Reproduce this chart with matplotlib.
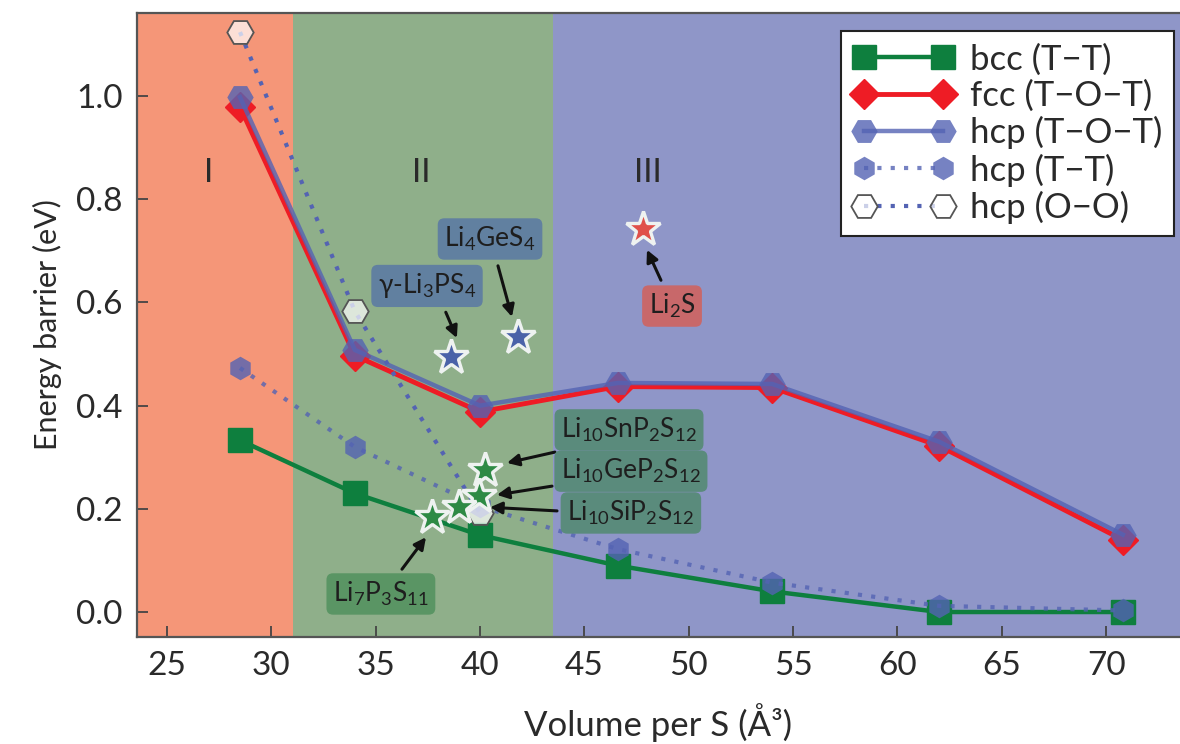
import matplotlib
matplotlib.use("Agg")
import matplotlib.pyplot as plt

plt.rcParams['font.family'] = ['Lato', 'DejaVu Sans']
plt.rcParams['mathtext.fontset'] = 'custom'
plt.rcParams['mathtext.rm'] = 'Lato'
plt.rcParams['mathtext.it'] = 'Lato:italic'
plt.rcParams['mathtext.default'] = 'regular'

# ---------------- data ----------------
volume = [28.5, 34.0, 40.0, 46.6, 54.0, 62.0, 70.8]
bcc_tt = [0.333, 0.230, 0.149, 0.090, 0.040, 0.000, 0.000]
fcc_tot = [0.979, 0.497, 0.388, 0.437, 0.435, 0.322, 0.140]
hcp_tot = [0.998, 0.508, 0.400, 0.444, 0.442, 0.330, 0.150]
hcp_tt = [0.473, 0.320, 0.205, 0.122, 0.057, 0.012, 0.003]
oo_volume = [28.5, 34.0, 40.0]
hcp_oo = [1.124, 0.583, 0.192]

regions = ["I", "II", "III"]
region_bounds = [23.54, 31.05, 43.5, 73.54]
region_colors = ['#f59678', '#8faf8a', '#8f96c8']
region_label_x = [27.0, 37.2, 48.05]
region_label_y = 0.85

materials = [r"γ-Li$_3$PS$_4$", r"Li$_4$GeS$_4$", r"Li$_2$S",
             r"Li$_{10}$SnP$_2$S$_{12}$", r"Li$_{10}$GeP$_2$S$_{12}$",
             r"Li$_{10}$SiP$_2$S$_{12}$", r"Li$_7$P$_3$S$_{11}$"]
mat_volume = [38.61, 41.82, 47.81, 40.24, 39.95, 38.99, 37.70]
mat_barrier = [0.494, 0.533, 0.742, 0.275, 0.225, 0.203, 0.184]
star_colors = ['#4a62a8', '#4a62a8', '#e0504a', '#2e8a45', '#2e8a45', '#2e8a45', '#2e8a45']
box_colors = ['#6180a0', '#6180a0', '#c8686a', '#5a8b7c', '#5a8b7c', '#5a8b7c', '#5a9564']
label_x = [37.46, 40.48, 49.2, 47.14, 47.23, 47.23, 35.25]
label_y = [0.632, 0.723, 0.593, 0.353, 0.273, 0.192, 0.035]
arrow_tail = [(38.36, 0.581), (40.86, 0.671), (48.67, 0.643), (43.59, 0.310),
              (43.45, 0.244), (43.69, 0.196), (36.26, 0.083)]
arrow_head = [(38.89, 0.531), (41.53, 0.572), (48.00, 0.702), (41.29, 0.289),
              (40.81, 0.227), (40.48, 0.203), (37.41, 0.145)]

xticks = [25, 30, 35, 40, 45, 50, 55, 60, 65, 70]
yticks = [0.0, 0.2, 0.4, 0.6, 0.8, 1.0]

# ---------------- figure ----------------
fig = plt.figure(figsize=(11.8, 7.44), dpi=100)
ax = fig.add_axes([136.5 / 1180, 107 / 744, 1043.5 / 1180, 624 / 744])

for i in range(3):
    ax.axvspan(region_bounds[i], region_bounds[i + 1], color=region_colors[i], lw=0, zorder=0)
    ax.text(region_label_x[i], region_label_y, regions[i], fontsize=24, color='#2a2a2a',
            ha='center', va='center', zorder=1)

green = '#0e7f3e'
red = '#ee1c25'
blue = '#5463b3'

ax.plot(volume, bcc_tt, color=green, lw=3.2, marker='s', ms=17, mec=green, mfc=green,
        label='bcc (T−T)', zorder=3)
ax.plot(volume, fcc_tot, color=red, lw=3.5, marker='D', ms=15, mec=red, mfc=red,
        label='fcc (T−O−T)', zorder=4)
ax.plot(volume, hcp_tot, color=blue, lw=3.2, marker='H', ms=19, mec='none', mfc=blue,
        alpha=0.8, label='hcp (T−O−T)', zorder=5)
ax.plot(volume, hcp_tt, color=blue, lw=3.0, ls=(0, (1, 2.2)), marker='h', ms=17, mec='none',
        mfc=blue, alpha=0.8, label='hcp (T−T)', zorder=5)
ax.plot(oo_volume, hcp_oo, color=blue, lw=3.0, ls=(0, (1, 2.2)), marker='H', ms=19,
        mec='#555555', mew=1.3, mfc=(1, 1, 1, 0.7), label='hcp (O−O)', zorder=6)

for i in range(len(materials)):
    ax.plot(mat_volume[i], mat_barrier[i], marker='*', ms=26, mfc=star_colors[i],
            mec='#eef2f0', mew=2.4, ls='none', zorder=8)
    ax.text(label_x[i], label_y[i], materials[i], fontsize=19, color='#1e1e1e',
            ha='center', va='center', zorder=9,
            bbox=dict(boxstyle='round,pad=0.25,rounding_size=0.25', fc=box_colors[i],
                      ec='none'))
    ax.annotate('', xy=arrow_head[i], xytext=arrow_tail[i], zorder=9,
                arrowprops=dict(arrowstyle='-|>,head_length=0.7,head_width=0.35',
                                color='#111111', lw=2.2, shrinkA=0, shrinkB=0))

ax.set_xlim(region_bounds[0], region_bounds[-1])
ax.set_ylim(-0.0484, 1.161)
ax.set_xticks(xticks)
ax.set_yticks(yticks)
ax.set_yticklabels([f"{v:.1f}" for v in yticks])
ax.tick_params(direction='in', length=8, width=1.3, color='#444444', labelsize=24,
               labelcolor='#2a2a2a', pad=10)
for side in ['left', 'bottom', 'top']:
    ax.spines[side].set_color('#555555')
    ax.spines[side].set_linewidth(1.6)
ax.spines['right'].set_visible(False)

ax.set_xlabel('Volume per S (Å³)', fontsize=25, color='#2a2a2a', labelpad=16)
ax.set_ylabel('Energy barrier (eV)', fontsize=22, color='#2a2a2a', labelpad=10)

leg = ax.legend(loc='upper right', bbox_to_anchor=(0.9943, 0.971), numpoints=2,
                fontsize=25, frameon=True, fancybox=False, framealpha=1,
                edgecolor='#222222', handlelength=2.9, handletextpad=0.45,
                labelspacing=0.12, borderpad=0.35, borderaxespad=0)
leg.get_frame().set_linewidth(1.5)
for t in leg.get_texts():
    t.set_color('#2a2a2a')

fig.savefig('out.png', dpi=100)
